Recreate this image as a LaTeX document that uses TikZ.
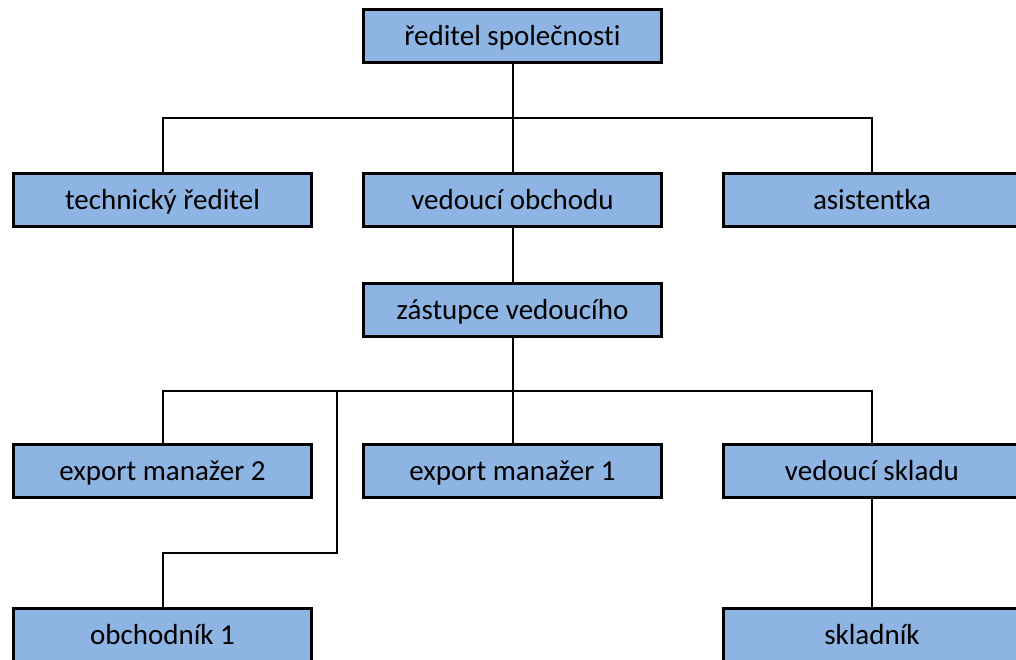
\documentclass[tikz,border=0pt]{standalone}
\usepackage{fontspec}
\setmainfont[Ligatures={NoCommon}]{Carlito}
\definecolor{boxblue}{RGB}{142,180,227}
\begin{document}
\begin{tikzpicture}[x=1pt,y=-1pt,
  orgbox/.style={draw=black, line width=3pt, fill=boxblue, minimum width=298pt, minimum height=53pt, inner sep=0pt, text height=23pt, text depth=4pt, font=\fontsize{29}{35}\selectfont, text=black},
  conn/.style={draw=black, line width=2pt}]
\useasboundingbox (0,0) rectangle (1016,659);
\clip (0,0) rectangle (1016,659);
\fill[white] (0,0) rectangle (1016,659);
\node[orgbox] (top) at (512.5,36) {ředitel společnosti};
\node[orgbox] (tech) at (162.5,200) {technický ředitel};
\node[orgbox] (vo) at (512.5,200) {vedoucí obchodu};
\node[orgbox] (asi) at (872,200) {asistentka};
\node[orgbox] (zast) at (512.5,310) {zástupce vedoucího};
\node[orgbox] (em2) at (162.5,471) {export manažer 2};
\node[orgbox] (em1) at (512.5,471) {export manažer 1};
\node[orgbox] (vs) at (872,471) {vedoucí skladu};
\node[orgbox] (ob) at (162.5,635) {obchodník 1};
\node[orgbox] (sk) at (872,635) {skladník};
\coordinate (j1) at (512.5,118);
\coordinate (j2) at (512.5,391);
\coordinate (b1) at (337,391);
\coordinate (b2) at (337,553);
\draw[conn] (top.south) -- (j1);
\draw[conn] (tech.north) |- (j1) -| (asi.north);
\draw[conn] (j1) -- (vo.north);
\draw[conn] (vo.south) -- (zast.north);
\draw[conn] (zast.south) -- (j2);
\draw[conn] (em2.north) |- (j2) -| (vs.north);
\draw[conn] (j2) -- (em1.north);
\draw[conn] (b1) -- (b2) -| (ob.north);
\draw[conn] (vs.south) -- (sk.north);
\end{tikzpicture}
\end{document}
